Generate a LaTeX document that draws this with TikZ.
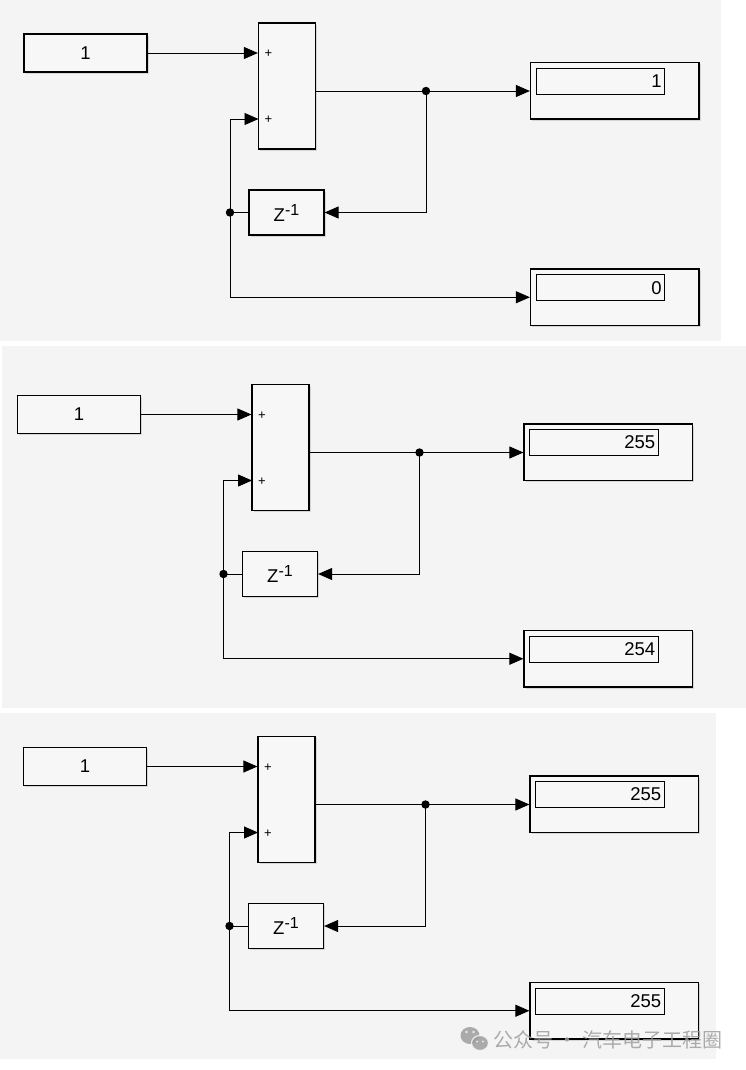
\documentclass[tikz,border=0pt]{standalone}
\usepackage{fontspec}
\setmainfont{Liberation Sans}
\newfontfamily\cjk{Noto Sans CJK SC}
\usetikzlibrary{arrows.meta,shadows}
\definecolor{panelbg}{HTML}{F4F4F4}
\definecolor{blkfill}{HTML}{F7F7F7}
\definecolor{wmgray}{HTML}{9E9E9E}
\tikzset{
  blk/.style={draw=black, line width=1.2pt, fill=blkfill, inner sep=0pt,
    drop shadow={shadow xshift=1.6pt, shadow yshift=-1.6pt, fill=black!28, draw=none},
    font=\fontsize{18.5}{18.5}\selectfont},
  inbox/.style={draw=black, line width=0.9pt, fill=blkfill, inner sep=0pt},
  val/.style={inner sep=0pt, font=\fontsize{18.5}{18.5}\selectfont},
  plus/.style={inner sep=0pt, font=\fontsize{13}{13}\selectfont},
  ln/.style={line width=0.9pt, draw=black},
  arr/.style={ln, -{Triangle[length=14pt,width=12pt]}},
}
\begin{document}
\begin{tikzpicture}[x=1pt,y=-1pt]
\useasboundingbox (0,0) rectangle (746,1070);
\fill[white] (0,0) rectangle (746,1070);
\fill[panelbg] (0,0) rectangle (721,341);
\fill[panelbg] (2,346) rectangle (746,707.5);
\fill[panelbg] (0,713) rectangle (716,1059);
\foreach \p/\dx/\dy/\va/\vb in {1/0/0/1/0, 2/-6.5/361.5/255/254, 3/-0.5/713.5/255/255} {
\begin{scope}[shift={(\dx,\dy)}]
  \node[blk, minimum width=123, minimum height=38] (c\p) at (85.5,53) {1};
  \node[blk, minimum width=57, minimum height=126] (s\p) at (287,86) {};
  \node[plus] (pa\p) at (268.5,54) {+};
  \node[plus] (pb\p) at (268.5,120) {+};
  \node[blk, minimum width=75, minimum height=45] (dl\p) at (286.5,212.5)
    {Z\raisebox{6pt}{\fontsize{16}{16}\selectfont -1}};
  \node[blk, minimum width=168.5, minimum height=56.5] (da\p) at (614.75,90.75) {};
  \node[inbox, minimum width=128.5, minimum height=26] (ia\p) at (600.25,81) {};
  \node[val, anchor=east] (ta\p) at ([xshift=-3pt]ia\p.east) {\va};
  \node[blk, minimum width=168.5, minimum height=56.5] (db\p) at (614.75,297.25) {};
  \node[inbox, minimum width=128.5, minimum height=26] (ib\p) at (600.25,287.75) {};
  \node[val, anchor=east] (tb\p) at ([xshift=-3pt]ib\p.east) {\vb};
  \coordinate (j\p) at (426,91);
  \coordinate (k\p) at (230,212.5);
  \coordinate (i\p) at (258.5,119);
  \draw[arr] (c\p.east) -- (c\p.east -| s\p.west);
  \draw[ln] (s\p.east |- j\p) -- (j\p);
  \draw[arr] (j\p) -- (j\p -| da\p.west);
  \draw[arr] (j\p) |- (dl\p.east);
  \draw[ln] (dl\p.west) -- (k\p);
  \draw[arr] (k\p) |- (i\p);
  \draw[arr] (k\p) |- (db\p.west);
  \fill (j\p) circle (4.2);
  \fill (k\p) circle (4.2);
\end{scope}
}
% watermark
\begin{scope}[opacity=0.85]
  \fill[wmgray] (470,1035.5) ellipse (9.5 and 8.5);
  \fill[wmgray, draw=panelbg, line width=1.2pt] (480,1043) ellipse (8.5 and 7.5);
  \fill[panelbg] (466.5,1032) circle (1.4);
  \fill[panelbg] (473.5,1032) circle (1.4);
  \fill[panelbg] (477,1041.5) circle (1.2);
  \fill[panelbg] (483,1041.5) circle (1.2);
  \node[anchor=west, inner sep=0pt, text=wmgray, font=\cjk\fontsize{20}{20}\selectfont] (wm) at (493,1040) {公众号 · 汽车电子工程圈};
\end{scope}
\end{tikzpicture}
\end{document}
